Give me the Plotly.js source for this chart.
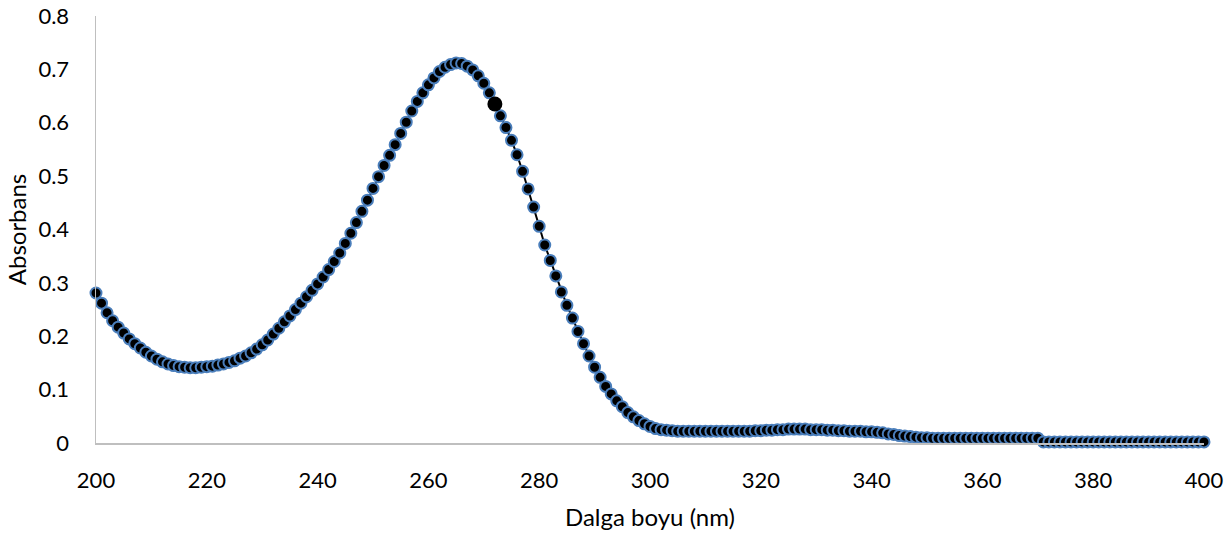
<!DOCTYPE html>
<html>
<head>
<meta charset="utf-8">
<script src="https://cdn.plot.ly/plotly-3.0.1.min.js"></script>
<style>html,body{margin:0;padding:0;background:#fff;}#chart{width:1232px;height:533px;}</style>
</head>
<body>
<div id="chart"></div>
<script>
// Wavelength (nm), 200..400 step 1
const wavelength = [];
for (let w = 200; w <= 400; w++) wavelength.push(w);

// Absorbance values (one per nm)
const absorbance = [
  // 200-209
  0.281, 0.262, 0.244, 0.229, 0.217, 0.206, 0.195, 0.186, 0.178, 0.170,
  // 210-219
  0.163, 0.157, 0.152, 0.148, 0.145, 0.143, 0.142, 0.141, 0.141, 0.142,
  // 220-229
  0.143, 0.144, 0.146, 0.148, 0.151, 0.154, 0.159, 0.163, 0.169, 0.176,
  // 230-239
  0.184, 0.193, 0.204, 0.215, 0.227, 0.238, 0.250, 0.262, 0.274, 0.286,
  // 240-249
  0.298, 0.311, 0.325, 0.340, 0.356, 0.374, 0.393, 0.413, 0.434, 0.455,
  // 250-259
  0.477, 0.499, 0.520, 0.539, 0.559, 0.580, 0.601, 0.622, 0.640, 0.656,
  // 260-269
  0.671, 0.684, 0.696, 0.704, 0.709, 0.712, 0.711, 0.706, 0.699, 0.688,
  // 270-279
  0.674, 0.656, 0.635, 0.613, 0.591, 0.567, 0.540, 0.509, 0.476, 0.442,
  // 280-289
  0.406, 0.371, 0.342, 0.313, 0.283, 0.258, 0.234, 0.209, 0.186, 0.163,
  // 290-299
  0.142, 0.123, 0.106, 0.092, 0.079, 0.068, 0.057, 0.049, 0.042, 0.036,
  // 300-309
  0.031, 0.027, 0.025, 0.024, 0.023, 0.022, 0.022, 0.022, 0.022, 0.022,
  // 310-319
  0.022, 0.022, 0.022, 0.022, 0.022, 0.022, 0.022, 0.022, 0.022, 0.023,
  // 320-329
  0.023, 0.024, 0.024, 0.025, 0.025, 0.026, 0.026, 0.026, 0.026, 0.025,
  // 330-339
  0.025, 0.025, 0.024, 0.024, 0.023, 0.023, 0.022, 0.022, 0.022, 0.021,
  // 340-349
  0.021, 0.020, 0.019, 0.017, 0.016, 0.014, 0.013, 0.012, 0.011, 0.010,
  // 350-359
  0.010, 0.009, 0.009, 0.009, 0.009, 0.009, 0.009, 0.009, 0.009, 0.009,
  // 360-369
  0.009, 0.009, 0.009, 0.009, 0.009, 0.009, 0.009, 0.009, 0.009, 0.009,
  // 370-379
  0.009, 0.002, 0.002, 0.002, 0.002, 0.002, 0.002, 0.002, 0.002, 0.002,
  // 380-389
  0.002, 0.002, 0.002, 0.002, 0.002, 0.002, 0.002, 0.002, 0.002, 0.002,
  // 390-400
  0.002, 0.002, 0.002, 0.002, 0.002, 0.002, 0.002, 0.002, 0.002, 0.002, 0.002
];

// Highlighted data point
const highlightWavelength = [272];
const highlightAbsorbance = highlightWavelength.map(w => absorbance[wavelength.indexOf(w)]);

const xTickVals = [200, 220, 240, 260, 280, 300, 320, 340, 360, 380, 400];
const yTickVals = [0, 0.1, 0.2, 0.3, 0.4, 0.5, 0.6, 0.7, 0.8];
const yTickText = ['0', '0.1', '0.2', '0.3', '0.4', '0.5', '0.6', '0.7', '0.8'];
const xTitle = 'Dalga boyu (nm)';
const yTitle = 'Absorbans';

const FONT = 'Lato, "Open Sans", "Liberation Sans", sans-serif';

const traces = [
  {
    x: wavelength, y: absorbance, type: 'scatter', mode: 'lines+markers',
    line: {color: '#000000', width: 2},
    marker: {size: 11, color: '#000000', line: {color: '#4a7ebb', width: 2}},
    cliponaxis: false, hoverinfo: 'x+y'
  },
  {
    x: highlightWavelength, y: highlightAbsorbance, type: 'scatter', mode: 'markers',
    marker: {size: 15, color: '#000000'},
    cliponaxis: false, hoverinfo: 'x+y'
  }
];

const layout = {
  width: 1232, height: 533,
  margin: {l: 96, r: 28, t: 16, b: 90},
  paper_bgcolor: '#ffffff', plot_bgcolor: '#ffffff',
  showlegend: false,
  font: {family: FONT, size: 22, color: '#000000'},
  xaxis: {
    range: [200, 400], tickvals: xTickVals, ticks: '',
    showgrid: false, zeroline: false,
    showline: true, linecolor: '#bfbfbf', linewidth: 1.5,
    ticklabelstandoff: 17,
    tickfont: {family: FONT, size: 22, color: '#000000'},
    title: {text: xTitle, font: {family: FONT, size: 24, color: '#000000'}, standoff: 17}
  },
  yaxis: {
    range: [0, 0.8], tickvals: yTickVals, ticktext: yTickText, ticks: '',
    showgrid: false, zeroline: false,
    showline: true, linecolor: '#bfbfbf', linewidth: 1.5,
    ticklabelstandoff: 21,
    tickfont: {family: FONT, size: 22, color: '#000000'},
    title: {text: yTitle, font: {family: FONT, size: 24, color: '#000000'}, standoff: 5}
  }
};

Plotly.newPlot('chart', traces, layout, {displayModeBar: false, staticPlot: true});
</script>
</body>
</html>
